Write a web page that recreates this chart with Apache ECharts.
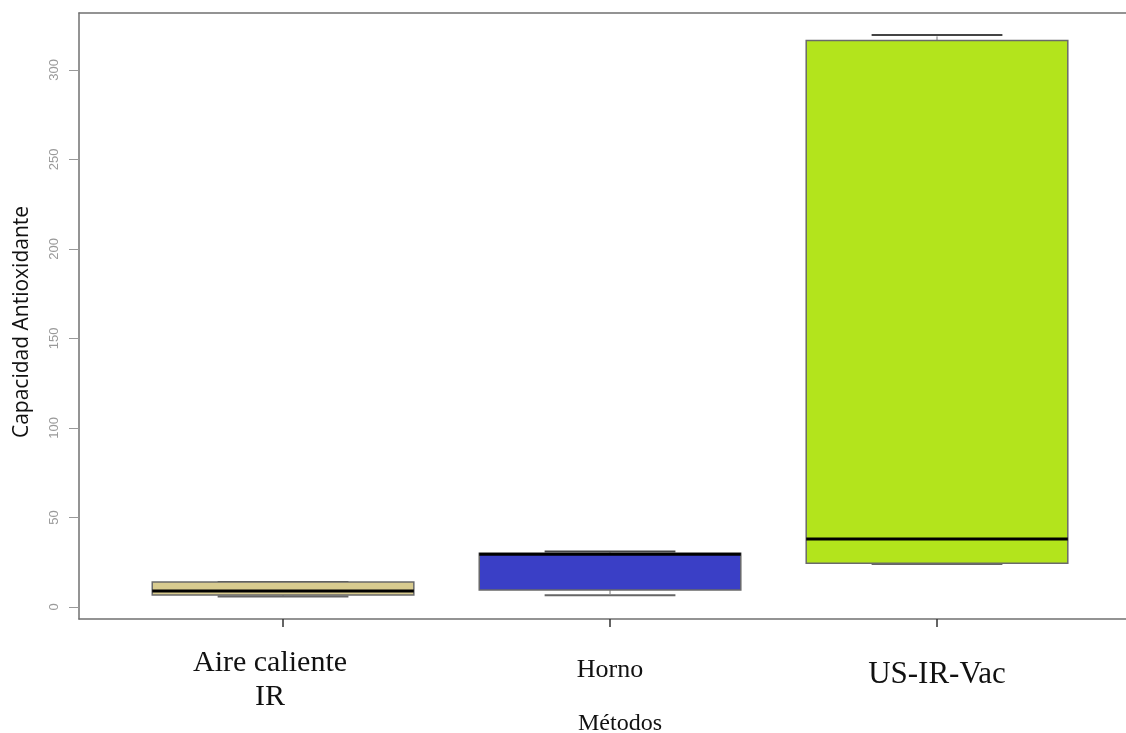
<!DOCTYPE html>
<html>
<head>
<meta charset="utf-8">
<title>Capacidad Antioxidante por método</title>
<script src="https://cdn.jsdelivr.net/npm/echarts@6/dist/echarts.min.js"></script>
<style>
  html, body { margin: 0; padding: 0; background: #ffffff; }
  #chart { width: 1126px; height: 733px; }
</style>
</head>
<body>
<div id="chart"></div>
<script>
// Drying methods and their antioxidant-capacity five-number summaries
const categories = ['Aire caliente\nIR', 'Horno', 'US-IR-Vac'];
const positions = [1, 2, 3];
const whiskerLow = [5.9, 6.5, 24.0];
const quartile1 = [6.7, 9.5, 24.5];
const medians = [9.0, 29.5, 38.0];
const quartile3 = [14.0, 30.0, 316.5];
const whiskerHigh = [14.0, 31.0, 319.5];
const yTicks = [0, 50, 100, 150, 200, 250, 300];
const boxColors = ['#d8cb8f', '#3a3fc6', '#b3e41c'];

const rows = positions.map((p, i) => [p, whiskerLow[i], quartile1[i], medians[i], quartile3[i], whiskerHigh[i]]);

const BOX_HALF = 0.4;   // half of the box width, in axis units
const CAP_HALF = 0.2;   // half of the whisker staple width
const X_MIN = 0.376, X_MAX = 3.578;

function renderBox(params, api) {
  const x = api.value(0);
  const lo = api.value(1), q1 = api.value(2), med = api.value(3), q3 = api.value(4), hi = api.value(5);
  const pTL = api.coord([x - BOX_HALF, q3]);
  const pBR = api.coord([x + BOX_HALF, q1]);
  const medL = api.coord([x - BOX_HALF, med]);
  const medR = api.coord([x + BOX_HALF, med]);
  const c = api.coord([x, 0]);
  const yLo = api.coord([x, lo])[1];
  const yHi = api.coord([x, hi])[1];
  const capL = api.coord([x - CAP_HALF, 0])[0];
  const capR = api.coord([x + CAP_HALF, 0])[0];
  const children = [
    // whiskers (dashed) and staples
    { type: 'line', shape: { x1: c[0], y1: pBR[1], x2: c[0], y2: yLo }, style: { stroke: '#777', lineWidth: 1, lineDash: [4, 3] } },
    { type: 'line', shape: { x1: c[0], y1: pTL[1], x2: c[0], y2: yHi }, style: { stroke: '#777', lineWidth: 1, lineDash: [4, 3] } },
    { type: 'line', shape: { x1: capL, y1: yLo, x2: capR, y2: yLo }, style: { stroke: '#666', lineWidth: 2 } },
    { type: 'line', shape: { x1: capL, y1: yHi, x2: capR, y2: yHi }, style: { stroke: '#444', lineWidth: 2 } },
    // interquartile box
    { type: 'rect', shape: { x: pTL[0], y: pTL[1], width: pBR[0] - pTL[0], height: pBR[1] - pTL[1] },
      style: { fill: boxColors[params.dataIndex], stroke: '#6a6a6a', lineWidth: 1.5 } },
    // median
    { type: 'line', shape: { x1: medL[0], y1: medL[1], x2: medR[0], y2: medR[1] }, style: { stroke: '#000', lineWidth: 3 } }
  ];
  return { type: 'group', children: children };
}

const serif = 'Liberation Serif';

const chart = echarts.init(document.getElementById('chart'), null, { renderer: 'canvas' });
chart.setOption({
  animation: false,
  backgroundColor: '#ffffff',
  grid: { left: 79, top: 13, right: 0, height: 606, show: false, containLabel: false, outerBoundsMode: 'none' },
  xAxis: [{
    type: 'value',
    min: X_MIN, max: X_MAX,
    name: 'Métodos',
    nameLocation: 'middle',
    nameGap: 93,
    nameMoveOverlap: false,
    nameTextStyle: { fontFamily: serif, fontSize: 24, color: '#111', padding: [0, 0, 0, 35] },
    axisLine: { show: true, onZero: false, lineStyle: { color: '#707070', width: 1.5 } },
    axisTick: { show: true, customValues: positions, length: 8, lineStyle: { color: '#333', width: 1.5 } },
    axisLabel: {
      customValues: positions,
      margin: 27,
      formatter: function (v) {
        const i = Math.round(v) - 1;
        const style = ['a', 'h', 'u'][i];
        return categories[i].split('\n').map(s => '{' + style + '|' + s + '}').join('\n');
      },
      rich: {
        a: { fontFamily: serif, fontSize: 30, color: '#111', lineHeight: 34, padding: [0, 26, 0, 0] },
        h: { fontFamily: serif, fontSize: 26, color: '#111', lineHeight: 34, padding: [14, 0, 0, 0] },
        u: { fontFamily: serif, fontSize: 31, color: '#111', lineHeight: 34, padding: [24, 0, 0, 0] }
      }
    },
    splitLine: { show: false }
  }, {
    // upper frame line
    type: 'value',
    position: 'top',
    min: X_MIN, max: X_MAX,
    axisLine: { show: true, onZero: false, lineStyle: { color: '#707070', width: 1.5 } },
    axisTick: { show: false },
    axisLabel: { show: false },
    splitLine: { show: false }
  }],
  yAxis: {
    type: 'value',
    min: -6.7, max: 331.8,
    name: 'Capacidad Antioxidante',
    nameLocation: 'middle',
    nameRotate: 90,
    nameGap: 46,
    nameMoveOverlap: false,
    nameTextStyle: { fontFamily: 'Open Sans', fontSize: 21, color: '#111', padding: [0, 12, 0, 0] },
    axisLine: { show: true, onZero: false, lineStyle: { color: '#707070', width: 1.5 } },
    axisTick: { show: true, customValues: yTicks, length: 10, lineStyle: { color: '#999', width: 1 } },
    axisLabel: {
      customValues: yTicks,
      rotate: 90,
      margin: 18,
      fontFamily: 'Liberation Sans',
      fontSize: 13,
      color: '#9a9a9a'
    },
    splitLine: { show: false }
  },
  series: [{
    type: 'custom',
    renderItem: renderBox,
    encode: { x: 0, y: [1, 2, 3, 4, 5] },
    data: rows,
    clip: false
  }]
});
</script>
</body>
</html>
